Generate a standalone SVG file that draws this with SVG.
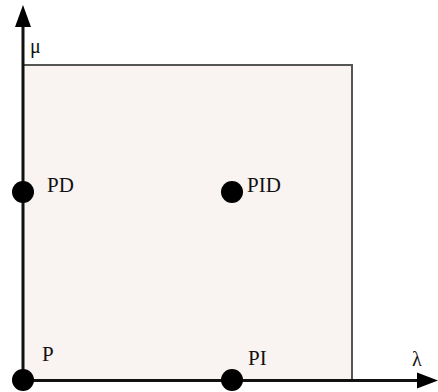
<svg xmlns="http://www.w3.org/2000/svg" width="438" height="392" viewBox="0 0 438 392">
<style>
text{font-family:"Liberation Serif","Times New Roman",serif;font-size:21px;fill:#111}
.dot{fill:#000}
.axis{stroke:#111;stroke-width:3;fill:none}
</style>
<rect width="438" height="392" fill="#fff"/>
<g id="region"><rect x="23" y="65" width="329" height="315" fill="#f9f4f2" stroke="#555" stroke-width="2"/></g>
<g id="axes">
<line class="axis" x1="23" y1="381" x2="23" y2="24"/>
<polygon points="23,5 15,27 31,27" fill="#000"/>
<line class="axis" x1="23" y1="380.5" x2="420" y2="380.5"/>
<polygon points="438,380.5 417,372.5 417,388.5" fill="#000"/>
<text x="30" y="53" style="font-size:20px">μ</text>
<text x="412" y="366" style="font-size:20px">λ</text>
</g>
<g id="P"><circle class="dot" cx="23" cy="380" r="11"/><text x="42" y="361">P</text></g>
<g id="PD"><circle class="dot" cx="23" cy="192" r="11"/><text x="47" y="192">PD</text></g>
<g id="PID"><circle class="dot" cx="232" cy="192" r="11"/><text x="247" y="192">PID</text></g>
<g id="PI"><circle class="dot" cx="232" cy="380" r="11"/><text x="248" y="365">PI</text></g>
</svg>
